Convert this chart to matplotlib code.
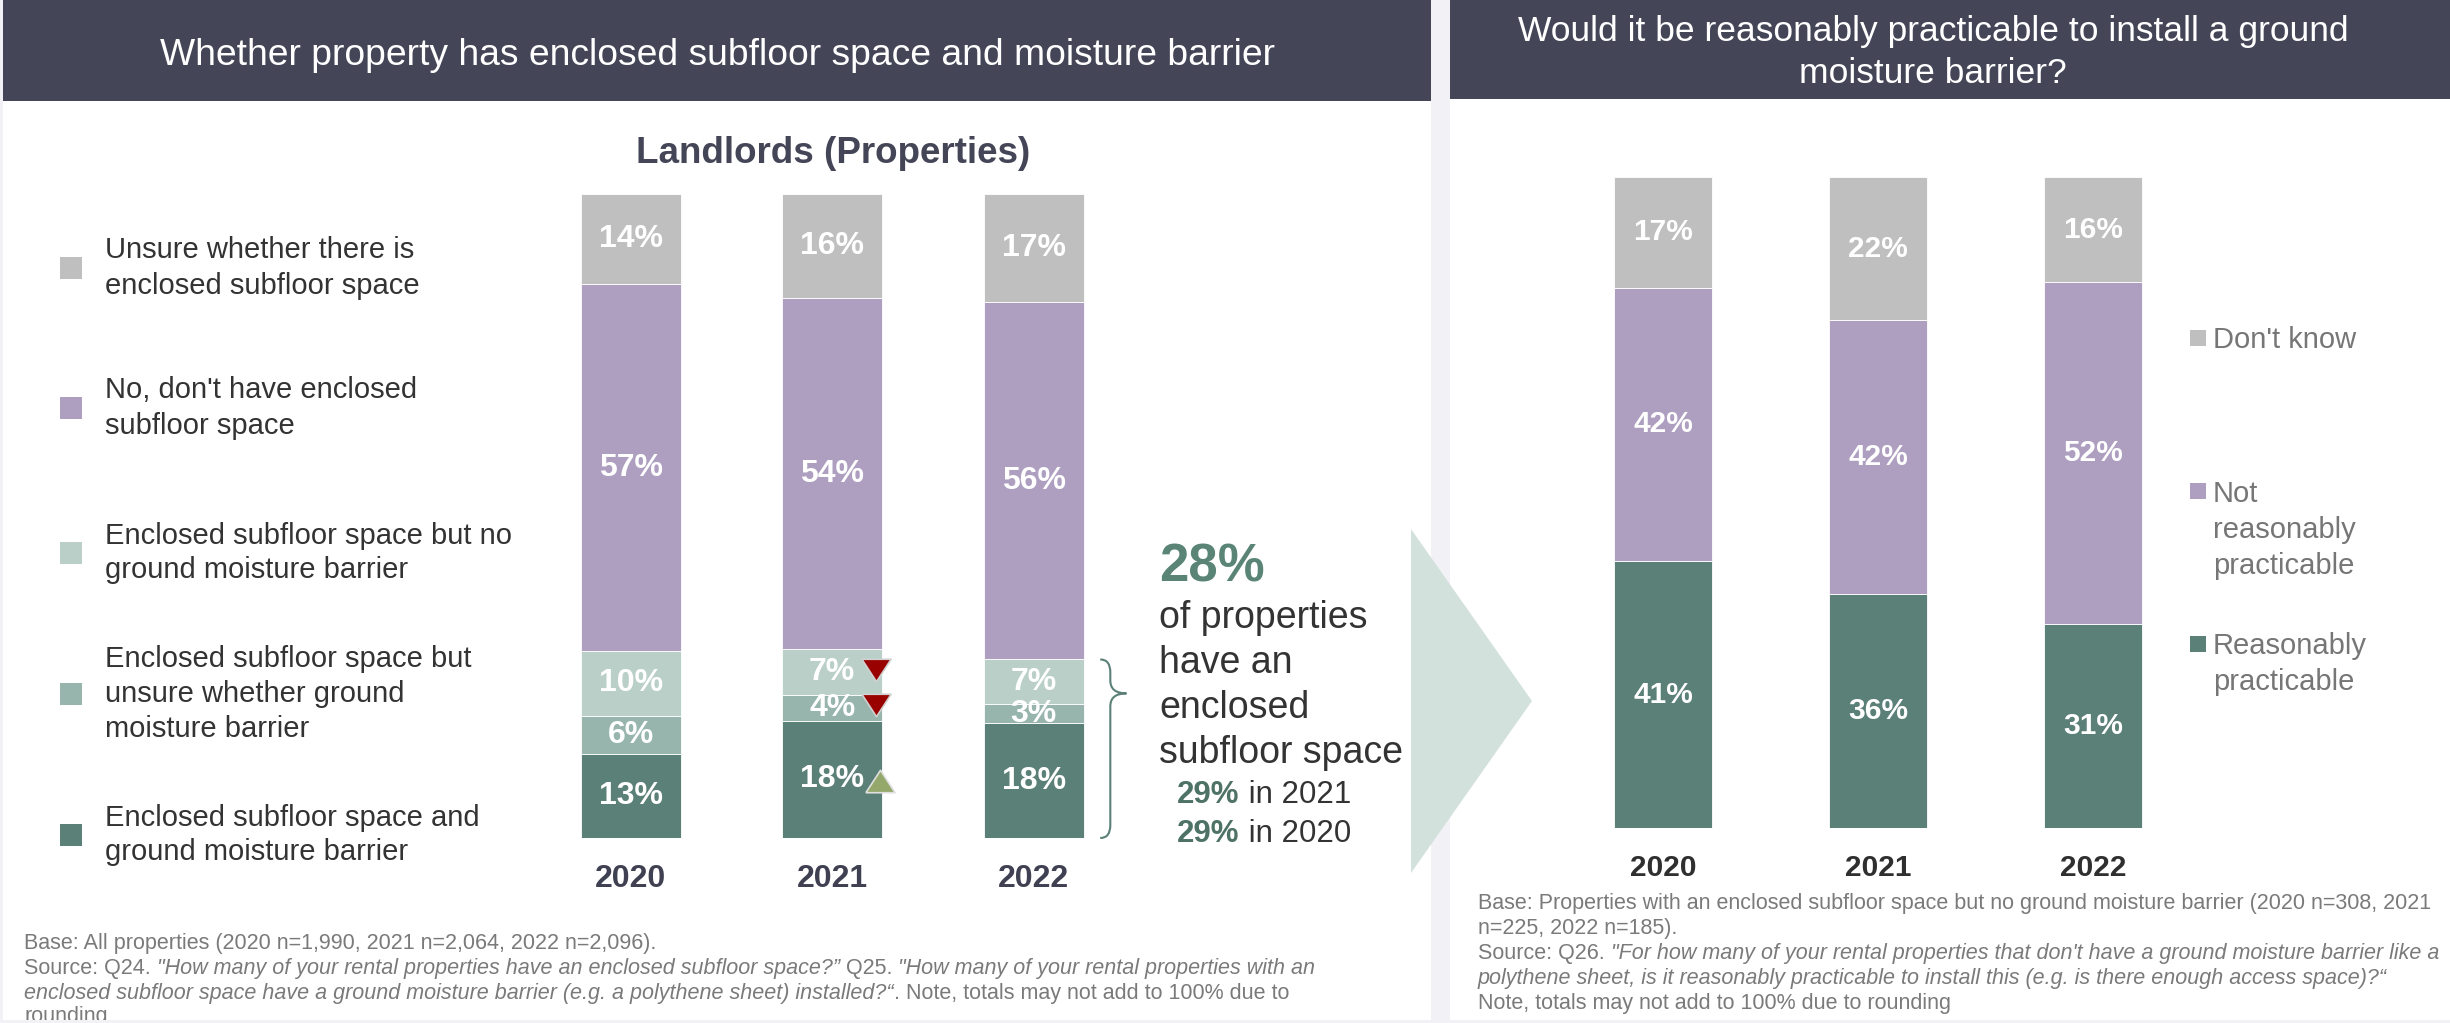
import numpy as np
import matplotlib.pyplot as plt
from matplotlib.patches import Rectangle, Polygon, PathPatch
from matplotlib.path import Path

plt.rcParams['font.family'] = ['Liberation Sans', 'DejaVu Sans']

years = ['2020', '2021', '2022']

# left chart, stacked bottom to top
barrier_yes = [13, 18, 18]
barrier_unsure = [6, 4, 3]
barrier_no = [10, 7, 7]
no_subfloor = [57, 54, 56]
unsure_subfloor = [14, 16, 17]
left_labels = [
    'Enclosed subfloor space and\nground moisture barrier',
    'Enclosed subfloor space but\nunsure whether ground\nmoisture barrier',
    'Enclosed subfloor space but no\nground moisture barrier',
    "No, don't have enclosed\nsubfloor space",
    'Unsure whether there is\nenclosed subfloor space',
]
# significant changes vs previous year: (year index, segment index, direction)
changes = [(1, 2, 'down'), (1, 1, 'down'), (1, 0, 'up')]

# right chart, stacked bottom to top
practicable = [41, 36, 31]
not_practicable = [42, 42, 52]
dont_know = [17, 22, 16]
right_labels = ['Reasonably\npracticable', 'Not\nreasonably\npracticable', "Don't know"]

HEADER = '#444557'
BG = '#f2f1f6'
left_colors = ['#5b8077', '#97b5ad', '#b9cfc8', '#ae9fc1', '#bfbfbf']
right_colors = ['#5b8077', '#ae9fc1', '#bfbfbf']

W, H = 2450, 1023
fig = plt.figure(figsize=(W / 100, H / 100), dpi=100, facecolor=BG)
ax0 = fig.add_axes([0, 0, 1, 1])
ax0.set_xlim(0, W)
ax0.set_ylim(H, 0)
ax0.axis('off')


def box(x0, y0, x1, y1, color, z=1):
    ax0.add_patch(Rectangle((x0, y0), x1 - x0, y1 - y0, facecolor=color, edgecolor='none', zorder=z))


def lines(x, y, text, step, **kw):
    for i, s in enumerate(text.split('\n')):
        ax0.text(x, y + i * step, s, **kw)


def chain(x, y, parts, fs):
    prev = None
    for s, style in parts:
        if prev is None:
            prev = ax0.text(x, y, s, fontsize=fs, va='baseline', ha='left', **style)
        else:
            prev = ax0.annotate(s, xy=(1, 0), xycoords=prev, va='bottom', ha='left', fontsize=fs, **style)


box(3, 0, 1431, 1020, 'white')
box(1450, 0, W, 1020, 'white')
box(3, 0, 1431, 101, HEADER)
box(1450, 0, W, 99, HEADER)

ax0.text(718, 65, 'Whether property has enclosed subfloor space and moisture barrier',
         color='white', fontsize=26.8, ha='center', va='baseline')
ax0.text(1933, 41, 'Would it be reasonably practicable to install a ground',
         color='white', fontsize=25.5, ha='center', va='baseline')
ax0.text(1933, 83, 'moisture barrier?', color='white', fontsize=25.5, ha='center', va='baseline')
ax0.text(833, 163, 'Landlords (Properties)', color=HEADER, fontsize=26.5,
         fontweight='bold', ha='center', va='baseline')

# chevron
ax0.add_patch(Polygon([(1411, 529), (1532, 701), (1411, 873)], closed=True,
                      facecolor='#d3e1dd', edgecolor='none', zorder=2))


def px_axes(x0, y0, x1, y1):
    ax = fig.add_axes([x0 / W, 1 - y1 / H, (x1 - x0) / W, (y1 - y0) / H])
    ax.set_facecolor('none')
    for s in ax.spines.values():
        s.set_visible(False)
    ax.set_yticks([])
    ax.set_xlim(-0.5, 2.5)
    ax.set_ylim(0, 100)
    return ax


def stacked(ax, series, colors, width, fs):
    data = np.array(series, dtype=float)
    shares = data / data.sum(axis=0) * 100
    x = np.arange(data.shape[1])
    bottom = np.zeros(data.shape[1])
    bottoms = []
    for vals, share, c in zip(data, shares, colors):
        ax.bar(x, share, width, bottom=bottom, color=c, edgecolor='white', linewidth=0.6)
        for xi, v, s, b in zip(x, vals, share, bottom):
            ax.text(xi, b + s / 2, f'{v:.0f}%', ha='center', va='center',
                    color='white', fontsize=fs, fontweight='bold')
        bottoms.append(bottom.copy())
        bottom += share
    return shares, np.array(bottoms)


# left chart
axl = px_axes(530, 194, 1134.5, 838)
left_series = [barrier_yes, barrier_unsure, barrier_no, no_subfloor, unsure_subfloor]
shares_l, bottoms_l = stacked(axl, left_series, left_colors, 0.496, 23)
axl.set_xticks(range(3), years, fontsize=23, fontweight='bold', color='#3f4152')
axl.tick_params(axis='x', length=0, pad=19)

tri_down = [(-1, 0.77), (1, 0.77), (0, -0.77), (-1, 0.77)]
tri_up = [(-1, -0.77), (1, -0.77), (0, 0.77), (-1, -0.77)]
for yi, si, d in changes:
    yc = bottoms_l[si, yi] + shares_l[si, yi] / 2
    if d == 'down':
        axl.plot(yi + 0.215, yc + 0.4, marker=tri_down, ms=21, color='#990000',
                 mec='#d0d0d0', mew=1.2, clip_on=False)
    else:
        axl.plot(yi + 0.235, yc - 0.3, marker=tri_up, ms=21, color='#94a86b',
                 mec='#e0e0e0', mew=1.2, clip_on=False)

# brace over enclosed subfloor segments of the latest year
top = bottoms_l[3, 2]
tip = top * 0.81
xe, xl_, xt, r = 2.33, 2.38, 2.46, 2.0
brace = Path([(xe, top), (xl_, top), (xl_, top - r), (xl_, tip + r), (xl_, tip), (xt, tip),
              (xl_, tip), (xl_, tip - r), (xl_, r), (xl_, 0), (xe, 0)],
             [Path.MOVETO, Path.CURVE3, Path.CURVE3, Path.LINETO, Path.CURVE3, Path.CURVE3,
              Path.CURVE3, Path.CURVE3, Path.LINETO, Path.CURVE3, Path.CURVE3])
axl.add_patch(PathPatch(brace, facecolor='none', edgecolor='#5b8077', lw=1.5, clip_on=False))

enclosed = [a + b + c for a, b, c in zip(barrier_yes, barrier_unsure, barrier_no)]
ax0.text(1159, 582, f'{enclosed[2]}%', color='#5a8576', fontsize=38, fontweight='bold', va='baseline')
for i, s in enumerate(['of properties', 'have an', 'enclosed', 'subfloor space']):
    ax0.text(1159, 628 + 45 * i, s, color='#333333', fontsize=27, va='baseline')
for i, yi in enumerate([1, 0]):
    chain(1177, 803 + 39 * i, [(f'{enclosed[yi]}%', dict(color='#4e7366', fontweight='bold')),
                               (f' in {years[yi]}', dict(color='#333333'))], 22.5)

# left legend
for lab, c, yc in zip(left_labels[::-1], left_colors[::-1], [268, 408, 553, 694, 835]):
    box(60, yc - 11, 82, yc + 11, c, 2)
    n = lab.count('\n') + 1
    lines(105, yc - 35 * (n - 1) / 2, lab, 35, color='#333333', fontsize=21, va='center')

# right chart
axr = px_axes(1555.5, 177, 2200.5, 828)
stacked(axr, [practicable, not_practicable, dont_know], right_colors, 0.456, 21.5)
axr.set_xticks(range(3), years, fontsize=21.5, fontweight='bold', color='#2f2f2f')
axr.tick_params(axis='x', length=0, pad=19)

for lab, c, yc in zip(right_labels[::-1], right_colors[::-1], [338, 491, 644]):
    box(2190, yc - 8, 2206, yc + 8, c, 2)
    lines(2213, yc + 10.5, lab, 36, color='#767676', fontsize=21, va='baseline')

# footnotes
FN = dict(color='#7a7a7a')
FI = dict(color='#7a7a7a', style='italic')
fs = 15.5
chain(24, 949, [('Base: All properties (2020 n=1,990, 2021 n=2,064, 2022 n=2,096).', FN)], fs)
chain(24, 974, [('Source: Q24. ', FN),
                ('"How many of your rental properties have an enclosed subfloor space?”', FI),
                (' Q25. ', FN), ('"How many of your rental properties with an', FI)], fs)
chain(24, 999, [('enclosed subfloor space have a ground moisture barrier (e.g. a polythene sheet) installed?“', FI),
                ('. Note, totals may not add to 100% due to', FN)], fs)
chain(24, 1022, [('rounding', FN)], fs)

chain(1478, 909, [('Base: Properties with an enclosed subfloor space but no ground moisture barrier (2020 n=308, 2021', FN)], fs)
chain(1478, 934, [('n=225, 2022 n=185).', FN)], fs)
chain(1478, 959, [('Source: Q26. ', FN),
                  ('"For how many of your rental properties that don\'t have a ground moisture barrier like a', FI)], fs)
chain(1478, 984, [('polythene sheet, is it reasonably practicable to install this (e.g. is there enough access space)?“', FI)], fs)
chain(1478, 1009, [('Note, totals may not add to 100% due to rounding', FN)], fs)

box(0, 1020, W, H, BG, 10)

fig.savefig('out.png', dpi=100, facecolor=BG)
